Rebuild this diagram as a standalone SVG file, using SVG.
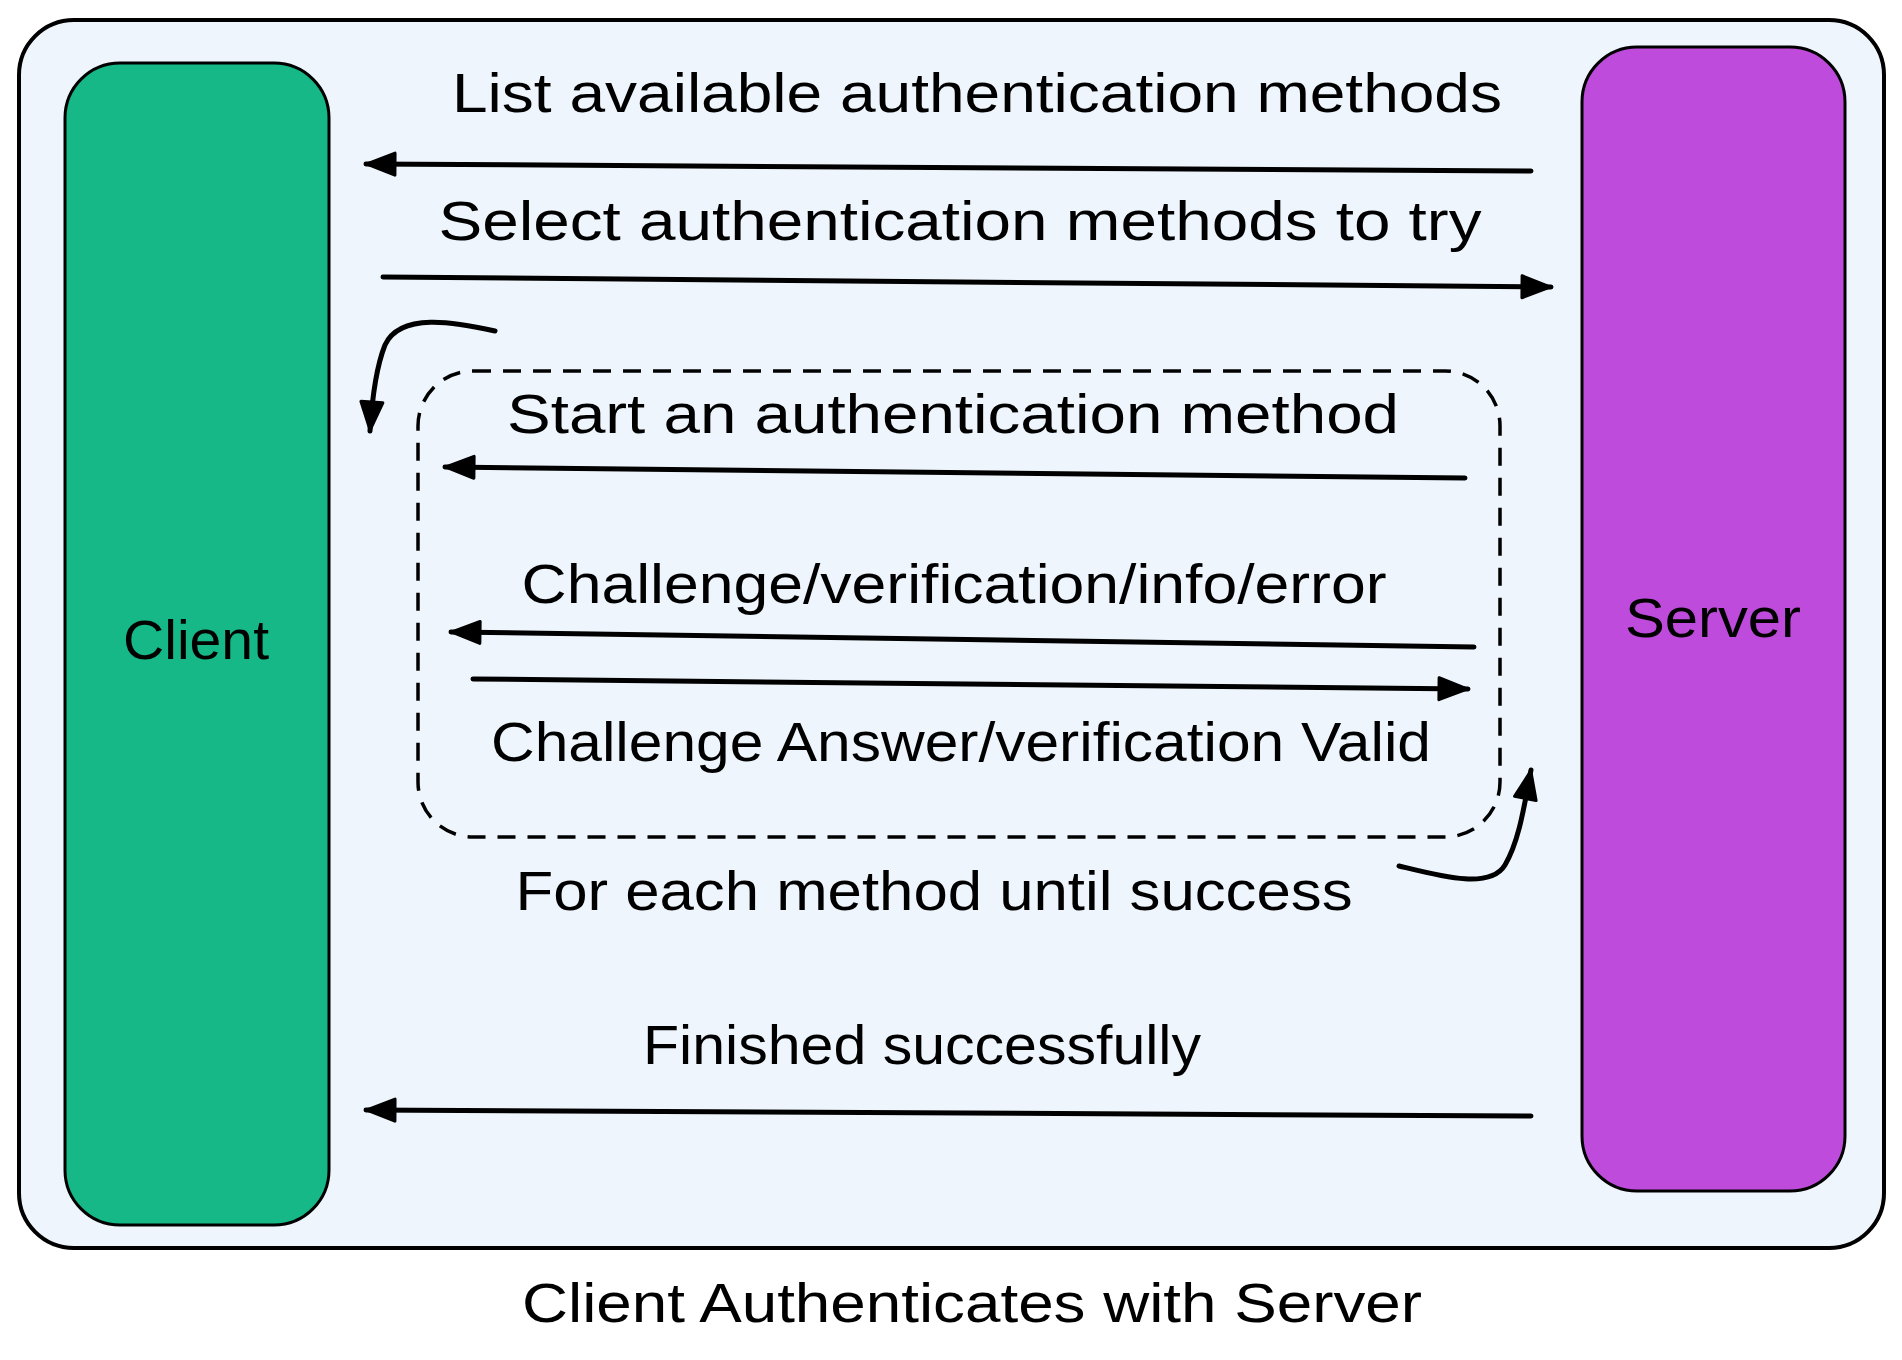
<svg xmlns="http://www.w3.org/2000/svg" width="1902" height="1360" viewBox="0 0 1902 1360">
<defs>
<marker id="ah" viewBox="0 0 34 28" refX="32" refY="14" markerWidth="34" markerHeight="28" markerUnits="userSpaceOnUse" orient="auto">
<path d="M3,3 L31,14 L3,25 Z" fill="#000" stroke="#000" stroke-width="3" stroke-linejoin="round"/>
</marker>
</defs>
<style>
.lbl{font-family:"Liberation Sans","Noto Sans",sans-serif;font-size:56px;fill:#000;text-anchor:middle}
.box{stroke:#000;stroke-width:3}
.conn{fill:none;stroke:#000;stroke-width:5;stroke-linecap:round;marker-end:url(#ah)}
</style>
<rect width="1902" height="1360" fill="#fff"/>
<g id="frame">
<rect x="19" y="20" width="1865" height="1228" rx="55" fill="#eef5fc" stroke="#000" stroke-width="4"/>
</g>
<g id="client">
<rect class="box" x="65" y="63" width="264" height="1162" rx="55" fill="#15b886"/>
<text class="lbl" x="196" y="659" textLength="146" lengthAdjust="spacingAndGlyphs">Client</text>
</g>
<g id="server">
<rect class="box" x="1582" y="47" width="263" height="1144" rx="55" fill="#be4bdb"/>
<text class="lbl" x="1713" y="637" textLength="176" lengthAdjust="spacingAndGlyphs">Server</text>
</g>
<g id="loop">
<rect x="418" y="371" width="1082" height="466" rx="55" fill="none" stroke="#000" stroke-width="3.5" stroke-dasharray="18 12"/>
</g>
<g id="connectors">
<path class="conn" d="M1531,171 L366,164"/>
<path class="conn" d="M383,277 L1551,287"/>
<path class="conn" d="M495,331 C455,322 400,312 385,345 C377,365 372,400 370,431"/>
<path class="conn" d="M1465,478 L445,467"/>
<path class="conn" d="M1474,647 L451,632"/>
<path class="conn" d="M473,679 L1468,689"/>
<path class="conn" d="M1399,866 C1440,876 1490,890 1505,865 C1520,840 1525,800 1531,770"/>
<path class="conn" d="M1531,1116 L366,1110"/>
</g>
<g id="labels">
<text class="lbl" x="977" y="112" textLength="1050" lengthAdjust="spacingAndGlyphs">List available authentication methods</text>
<text class="lbl" x="960" y="240" textLength="1043" lengthAdjust="spacingAndGlyphs">Select authentication methods to try</text>
<text class="lbl" x="953" y="433" textLength="892" lengthAdjust="spacingAndGlyphs">Start an authentication method</text>
<text class="lbl" x="954" y="603" textLength="865" lengthAdjust="spacingAndGlyphs">Challenge/verification/info/error</text>
<text class="lbl" x="961" y="761" textLength="940" lengthAdjust="spacingAndGlyphs">Challenge Answer/verification Valid</text>
<text class="lbl" x="934" y="910" textLength="837" lengthAdjust="spacingAndGlyphs">For each method until success</text>
<text class="lbl" x="922" y="1064" textLength="558" lengthAdjust="spacingAndGlyphs">Finished successfully</text>
<text class="lbl" x="972" y="1322" textLength="900" lengthAdjust="spacingAndGlyphs">Client Authenticates with Server</text>
</g>
</svg>
